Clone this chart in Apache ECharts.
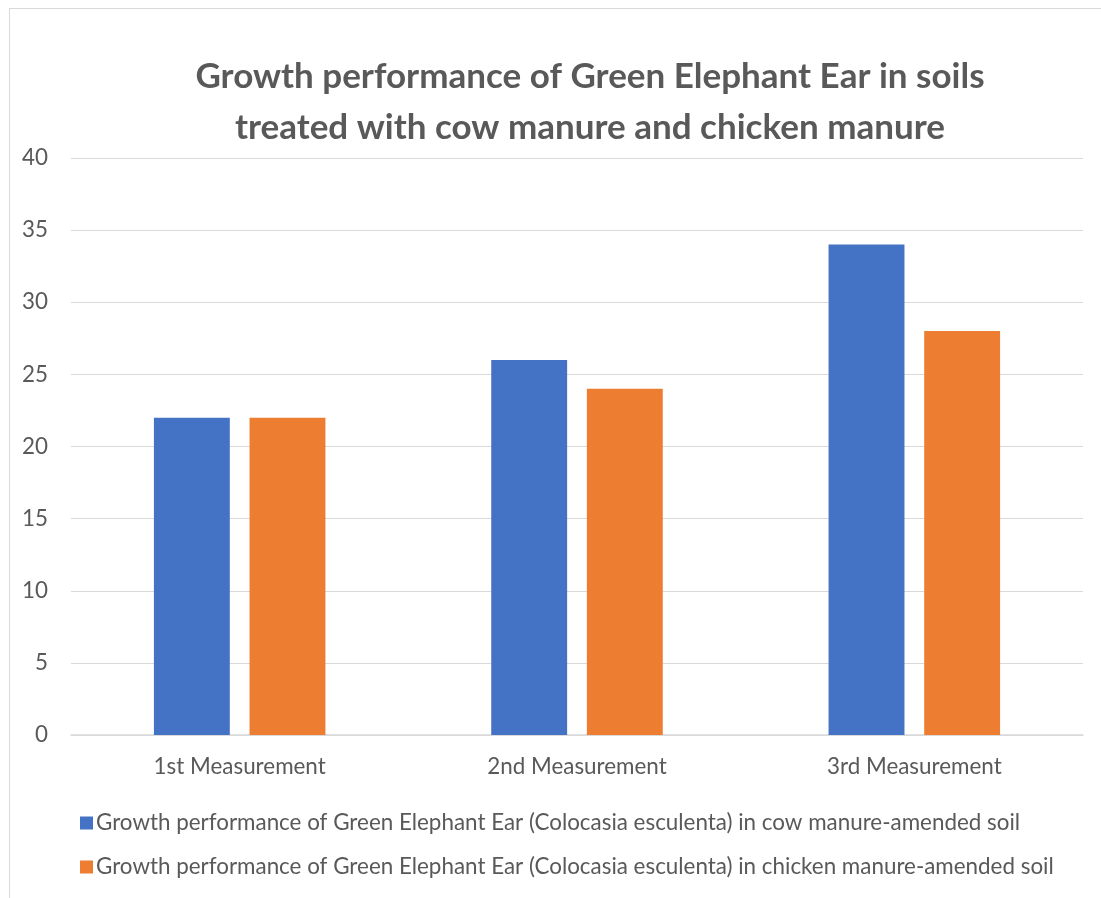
<!DOCTYPE html>
<html>
<head>
<meta charset="utf-8">
<script src="https://cdn.jsdelivr.net/npm/echarts@6/dist/echarts.min.js"></script>
<style>
	html, body {
		margin: 0;
		padding: 0;
		background: #fff;
	}
	.frame {
		position: absolute;
		left: 9px;
		top: 8px;
		width: 1092px;
		height: 890px;
		border-left: 1px solid #d9d9d9;
		border-top: 1px solid #d9d9d9;
	}
	#chart {
		position: absolute;
		left: 0;
		top: 0;
		width: 1101px;
		height: 898px;
	}
</style>
</head>
<body>
<div class="frame"></div>
<div id="chart"></div>
<script>
	const categories = ['1st Measurement', '2nd Measurement', '3rd Measurement'];
	const cowManure = [22, 26, 34];
	const chickenManure = [22, 24, 28];
	const seriesNames = [
		'Growth performance of Green Elephant Ear (Colocasia esculenta) in cow manure-amended soil',
		'Growth performance of Green Elephant Ear (Colocasia esculenta) in chicken manure-amended soil'
	];
	const titleText = 'Growth performance of Green Elephant Ear in soils\ntreated with cow manure and chicken manure';

	const chart = echarts.init(document.getElementById('chart'));
	const font = 'Lato, Carlito, sans-serif';
	const option = {
		animation: false,
		title: {
			text: titleText,
			left: 585,
			textAlign: 'center',
			top: 46,
			textStyle: {
				fontFamily: font,
				fontWeight: 'bold',
				fontSize: 35,
				lineHeight: 51,
				color: '#595959'
			}
		},
		legend: {
			orient: 'vertical',
			left: 75,
			top: 807,
			itemWidth: 13,
			itemHeight: 13,
			itemGap: 22,
			icon: 'rect',
			textStyle: {
				fontFamily: font,
				fontSize: 22.4,
				color: '#595959',
				padding: [0, 0, 0, -2]
			},
			data: seriesNames
		},
		grid: {
			left: 71,
			right: 18,
			top: 158,
			bottom: 163,
			containLabel: false
		},
		xAxis: {
			type: 'category',
			data: categories,
			axisTick: { show: false },
			axisLine: { lineStyle: { color: '#d9d9d9', width: 1.5 } },
			axisLabel: {
				fontFamily: font,
				fontSize: 22.4,
				color: '#595959',
				margin: 21
			}
		},
		yAxis: {
			type: 'value',
			min: 0,
			max: 40,
			interval: 5,
			axisLine: { show: false },
			axisTick: { show: false },
			splitLine: { lineStyle: { color: '#d9d9d9', width: 1 } },
			axisLabel: {
				fontFamily: font,
				fontSize: 22.4,
				color: '#595959',
				margin: 23
			}
		},
		series: [
			{
				name: seriesNames[0],
				type: 'bar',
				data: cowManure,
				barWidth: '22.5%',
				barGap: '26%',
				itemStyle: { color: '#4472c4' }
			},
			{
				name: seriesNames[1],
				type: 'bar',
				data: chickenManure,
				barWidth: '22.5%',
				barGap: '26%',
				itemStyle: { color: '#ed7d31' }
			}
		]
	};
	chart.setOption(option);
</script>
</body>
</html>
